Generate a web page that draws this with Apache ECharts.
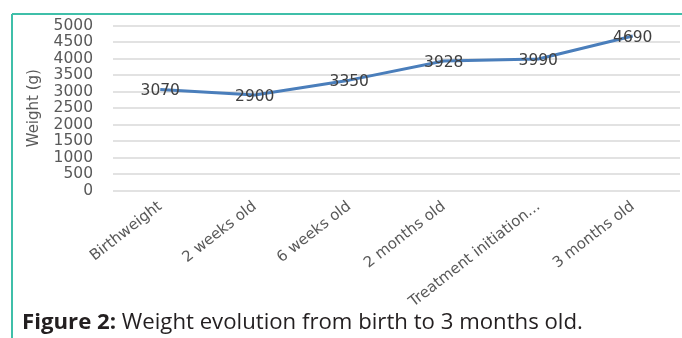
<!DOCTYPE html>
<html>
<head>
<meta charset="utf-8">
<script src="https://cdn.jsdelivr.net/npm/echarts@6/dist/echarts.min.js"></script>
<style>
  html, body { margin: 0; padding: 0; background: #ffffff; }
  #chart { width: 682px; height: 338px; }
</style>
</head>
<body>
<div id="chart"></div>
<script>
// Weight at each check-up, in grams
const categories = ['Birthweight', '2 weeks old', '6 weeks old', '2 months old', 'Treatment initiation...', '3 months old'];
const weights = [3070, 2900, 3350, 3928, 3990, 4690];
const yTicks = { min: 0, max: 5000, step: 500 };

const chart = echarts.init(document.getElementById('chart'), null, { renderer: 'canvas' });

chart.setOption({
  backgroundColor: '#ffffff',
  animation: false,
  title: {
    text: '{b|Figure 2:} Weight evolution from birth to 3 months old.',
    left: 17,
    top: 307,
    textStyle: {
      fontFamily: 'Open Sans',
      fontSize: 22.2,
      fontWeight: 'normal',
      color: '#231f20',
      rich: {
        b: { fontFamily: 'Open Sans', fontSize: 22.2, fontWeight: 'bold', color: '#231f20' }
      }
    }
  },
  graphic: [
    { type: 'line', shape: { x1: 12, y1: 14, x2: 682, y2: 14 }, style: { stroke: '#3fbfa9', lineWidth: 2 } },
    { type: 'line', shape: { x1: 12, y1: 14, x2: 12, y2: 338 }, style: { stroke: '#3fbfa9', lineWidth: 2 } }
  ],
  grid: { left: 113, right: 2, top: 25.7, bottom: 147.3, containLabel: false },
  xAxis: {
    type: 'category',
    data: categories,
    boundaryGap: true,
    axisLine: { show: false },
    axisTick: { show: false },
    axisLabel: {
      interval: 0,
      rotate: 38,
      margin: 14,
      fontFamily: 'DejaVu Sans',
      fontSize: 15,
      color: '#595959'
    }
  },
  yAxis: {
    type: 'value',
    min: yTicks.min,
    max: yTicks.max,
    interval: yTicks.step,
    name: 'Weight (g)',
    nameLocation: 'middle',
    nameGap: 71,
    nameRotate: 90,
    nameTextStyle: { fontFamily: 'DejaVu Sans', fontSize: 15, color: '#595959' },
    axisLine: { show: false },
    axisTick: { show: false },
    axisLabel: {
      margin: 20,
      fontFamily: 'DejaVu Sans',
      fontSize: 15.5,
      color: '#595959',
      formatter: (v) => String(v)
    },
    splitLine: { lineStyle: { color: '#d9d9d9', width: 1.5 } }
  },
  series: [{
    type: 'line',
    data: weights,
    symbol: 'circle',
    symbolSize: 0.01,
    showSymbol: true,
    itemStyle: { color: 'rgba(0,0,0,0)', borderWidth: 0 },
    lineStyle: { color: '#4a7ebb', width: 3 },
    label: {
      show: true,
      position: 'inside',
      offset: [0, 2],
      fontFamily: 'DejaVu Sans',
      fontSize: 15.5,
      color: '#404040'
    }
  }]
});
</script>
</body>
</html>
